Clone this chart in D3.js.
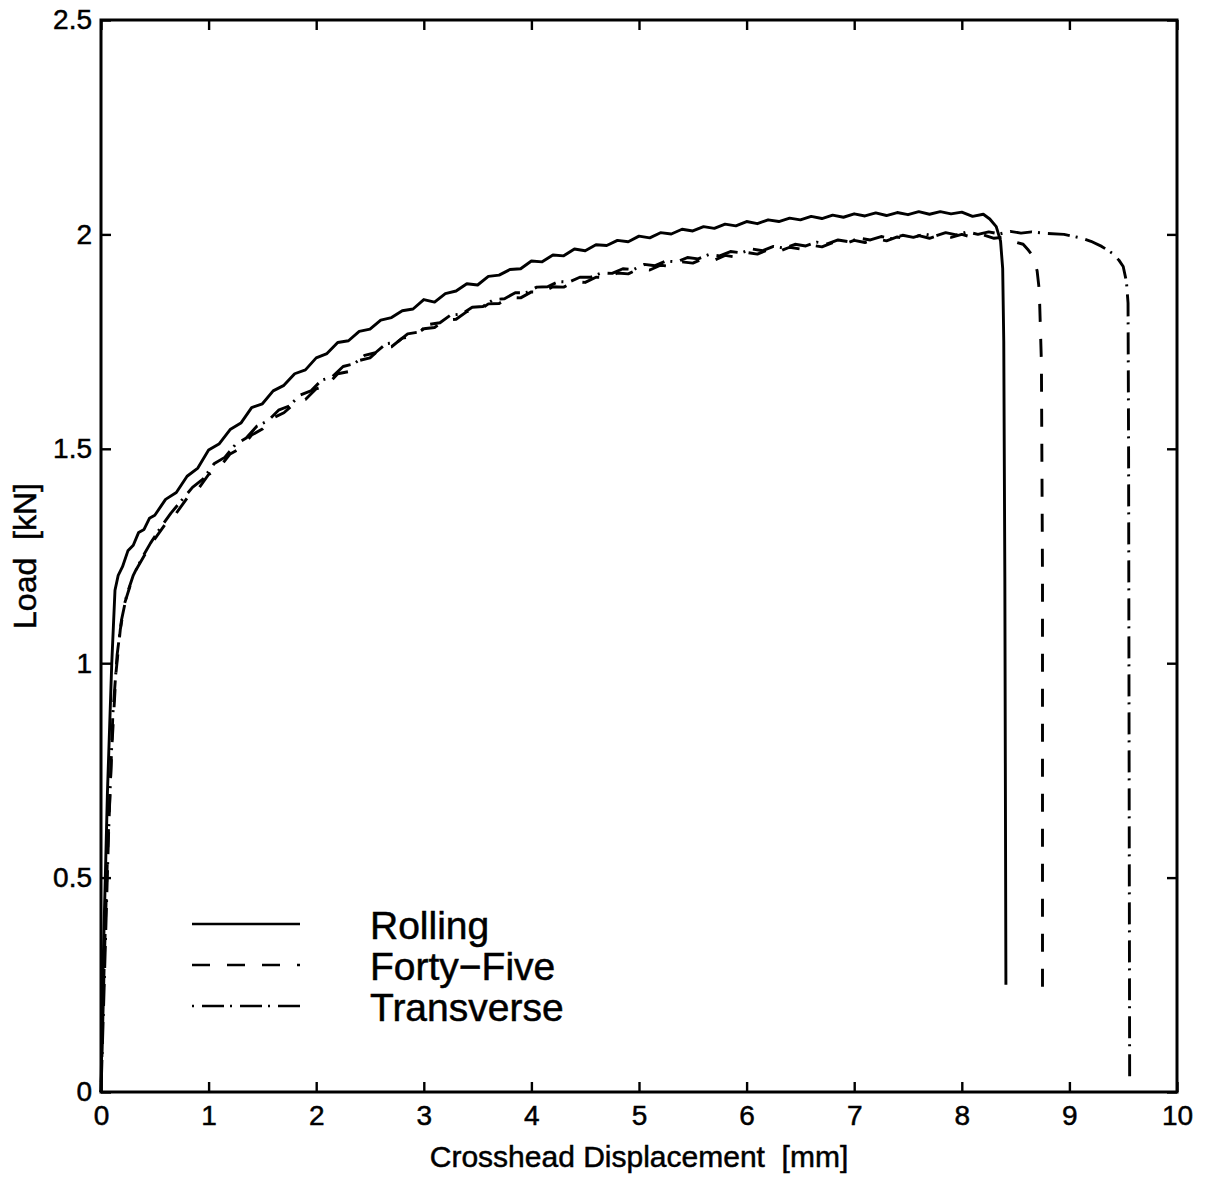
<!DOCTYPE html>
<html>
<head>
<meta charset="utf-8">
<script src="https://cdn.jsdelivr.net/npm/d3@7"></script>
<style>
  html, body { margin: 0; padding: 0; background: #fff; }
  svg { display: block; }
  text { font-family: "Liberation Sans", Arial, Helvetica, sans-serif; fill: #000; stroke: #000; stroke-width: 0.5; }
</style>
</head>
<body>
<div id="chart"></div>
<script>
// displacement [mm], load [kN] pairs for each specimen orientation
var rolling = [
  [0, 0], [0.02, 0.30], [0.06, 0.70], [0.10, 1.00], [0.13, 1.17], [0.16, 1.205],
  [0.20, 1.225], [0.25, 1.262], [0.30, 1.275], [0.35, 1.305], [0.40, 1.312], [0.45, 1.338],
  [0.50, 1.345], [0.60, 1.382], [0.70, 1.398], [0.80, 1.436], [0.90, 1.455], [1.00, 1.497],
  [1.10, 1.512], [1.20, 1.545], [1.30, 1.560], [1.40, 1.596], [1.50, 1.605], [1.60, 1.635],
  [1.70, 1.648], [1.80, 1.675], [1.90, 1.684], [2.00, 1.712], [2.10, 1.722], [2.20, 1.748],
  [2.30, 1.752], [2.40, 1.774], [2.50, 1.779], [2.60, 1.800], [2.70, 1.806], [2.80, 1.822],
  [2.90, 1.826], [3.00, 1.848], [3.10, 1.842], [3.20, 1.862], [3.30, 1.868], [3.40, 1.885],
  [3.50, 1.882], [3.60, 1.902], [3.70, 1.905], [3.80, 1.918], [3.90, 1.920], [4.00, 1.938],
  [4.10, 1.936], [4.20, 1.952], [4.30, 1.950], [4.40, 1.966], [4.50, 1.962], [4.60, 1.976],
  [4.70, 1.974], [4.80, 1.986], [4.90, 1.983], [5.00, 1.996], [5.10, 1.992], [5.20, 2.004],
  [5.30, 2.001], [5.40, 2.012], [5.50, 2.008], [5.60, 2.018], [5.70, 2.014], [5.80, 2.024],
  [5.90, 2.020], [6.00, 2.030], [6.10, 2.025], [6.20, 2.034], [6.30, 2.030], [6.40, 2.038],
  [6.50, 2.034], [6.60, 2.042], [6.70, 2.037], [6.80, 2.045], [6.90, 2.040], [7.00, 2.048],
  [7.10, 2.043], [7.20, 2.050], [7.30, 2.044], [7.40, 2.051], [7.50, 2.046], [7.60, 2.053],
  [7.70, 2.047], [7.80, 2.053], [7.90, 2.048], [8.00, 2.052], [8.10, 2.042], [8.20, 2.047],
  [8.26, 2.036], [8.32, 2.018], [8.36, 1.985], [8.38, 1.92], [8.39, 1.75], [8.40, 1.20],
  [8.41, 0.25]
];

var fortyFive = [
  [0, 0], [0.03, 0.30], [0.06, 0.55], [0.10, 0.80], [0.14, 0.98], [0.18, 1.08],
  [0.22, 1.14], [0.27, 1.18], [0.32, 1.215], [0.40, 1.25], [0.50, 1.29], [0.60, 1.325],
  [0.70, 1.35], [0.80, 1.385], [0.90, 1.405], [1.00, 1.44], [1.10, 1.456], [1.20, 1.488],
  [1.30, 1.502], [1.40, 1.532], [1.50, 1.546], [1.60, 1.572], [1.70, 1.584], [1.80, 1.606],
  [1.90, 1.615], [2.00, 1.640], [2.10, 1.648], [2.20, 1.675], [2.30, 1.680], [2.40, 1.706],
  [2.50, 1.712], [2.60, 1.735], [2.70, 1.738], [2.80, 1.758], [2.90, 1.762], [3.00, 1.780],
  [3.10, 1.783], [3.20, 1.800], [3.30, 1.802], [3.40, 1.820], [3.50, 1.821], [3.60, 1.838],
  [3.70, 1.839], [3.80, 1.853], [3.90, 1.852], [4.00, 1.866], [4.10, 1.865], [4.20, 1.878],
  [4.30, 1.877], [4.40, 1.890], [4.50, 1.888], [4.60, 1.900], [4.70, 1.899], [4.80, 1.910],
  [4.90, 1.908], [5.00, 1.920], [5.10, 1.917], [5.20, 1.928], [5.30, 1.925], [5.40, 1.936],
  [5.50, 1.933], [5.60, 1.944], [5.70, 1.940], [5.80, 1.951], [5.90, 1.947], [6.00, 1.958],
  [6.10, 1.954], [6.20, 1.964], [6.30, 1.960], [6.40, 1.970], [6.50, 1.966], [6.60, 1.975],
  [6.70, 1.971], [6.80, 1.981], [6.90, 1.977], [7.00, 1.986], [7.10, 1.981], [7.20, 1.990],
  [7.30, 1.985], [7.40, 1.994], [7.50, 1.988], [7.60, 1.997], [7.70, 1.991], [7.80, 1.999],
  [7.90, 1.993], [8.00, 2.000], [8.10, 1.993], [8.20, 1.999], [8.30, 1.991], [8.40, 1.994],
  [8.50, 1.982], [8.57, 1.977], [8.62, 1.963], [8.66, 1.950], [8.70, 1.915], [8.72, 1.87],
  [8.74, 1.70], [8.75, 1.20], [8.75, 0.21]
];

var transverse = [
  [0, 0], [0.03, 0.25], [0.07, 0.60], [0.11, 0.88], [0.15, 1.02], [0.19, 1.10],
  [0.24, 1.16], [0.30, 1.205], [0.38, 1.245], [0.46, 1.28], [0.55, 1.315], [0.65, 1.35],
  [0.75, 1.38], [0.85, 1.41], [0.95, 1.43], [1.05, 1.465], [1.15, 1.48], [1.25, 1.51],
  [1.35, 1.525], [1.45, 1.553], [1.55, 1.565], [1.65, 1.59], [1.75, 1.60], [1.85, 1.625],
  [1.95, 1.635], [2.05, 1.66], [2.15, 1.668], [2.25, 1.692], [2.35, 1.698], [2.45, 1.718],
  [2.55, 1.724], [2.65, 1.745], [2.75, 1.748], [2.85, 1.768], [2.95, 1.772], [3.05, 1.79],
  [3.15, 1.794], [3.25, 1.812], [3.35, 1.814], [3.45, 1.83], [3.55, 1.832], [3.65, 1.848],
  [3.75, 1.850], [3.85, 1.864], [3.95, 1.864], [4.05, 1.877], [4.15, 1.878], [4.25, 1.89],
  [4.35, 1.889], [4.45, 1.90], [4.55, 1.90], [4.65, 1.91], [4.75, 1.909], [4.85, 1.92],
  [4.95, 1.918], [5.05, 1.93], [5.15, 1.927], [5.25, 1.938], [5.35, 1.936], [5.45, 1.946],
  [5.55, 1.943], [5.65, 1.953], [5.75, 1.950], [5.85, 1.96], [5.95, 1.957], [6.05, 1.966],
  [6.15, 1.962], [6.25, 1.972], [6.35, 1.968], [6.45, 1.977], [6.55, 1.973], [6.65, 1.982],
  [6.75, 1.978], [6.85, 1.987], [6.95, 1.983], [7.05, 1.991], [7.15, 1.987], [7.25, 1.995],
  [7.35, 1.990], [7.45, 1.998], [7.55, 1.993], [7.65, 2.001], [7.75, 1.996], [7.85, 2.004],
  [7.95, 1.999], [8.05, 2.006], [8.15, 2.000], [8.25, 2.006], [8.35, 2.001], [8.45, 2.007],
  [8.55, 2.003], [8.65, 2.006], [8.80, 2.002], [8.95, 2.000], [9.10, 1.992], [9.20, 1.984],
  [9.30, 1.972], [9.40, 1.956], [9.46, 1.94], [9.50, 1.925], [9.53, 1.89], [9.545, 1.84],
  [9.55, 1.50], [9.56, 0.03]
];

var seriesNames = ["Rolling", "Forty\u2212Five", "Transverse"];
var xTicks = [0, 1, 2, 3, 4, 5, 6, 7, 8, 9, 10];
var yTicks = [0, 0.5, 1, 1.5, 2, 2.5];

var width = 1207, height = 1178;
var margin = {top: 20, right: 30, bottom: 86, left: 101};

var svg = d3.select("#chart").append("svg")
  .attr("width", width)
  .attr("height", height);

var x = d3.scaleLinear().domain([0, 10]).range([margin.left, width - margin.right]);
var y = d3.scaleLinear().domain([0, 2.5]).range([height - margin.bottom, margin.top]);

var tickLen = 10;

// bottom and left axes carry the labels, top and right only the ticks
svg.append("g")
  .attr("transform", "translate(0," + y(0) + ")")
  .call(d3.axisBottom(x).tickValues(xTicks).tickSizeInner(-tickLen).tickSizeOuter(0).tickPadding(13).tickFormat(d3.format("d")))
  .call(styleAxis)
  .selectAll("text").attr("dy", "0.71em");

svg.append("g")
  .attr("transform", "translate(" + x(0) + ",0)")
  .call(d3.axisLeft(y).tickValues(yTicks).tickSizeInner(-tickLen).tickSizeOuter(0).tickPadding(9).tickFormat(function(d) { return String(d); }))
  .call(styleAxis);

svg.append("g")
  .attr("transform", "translate(0," + y(2.5) + ")")
  .call(d3.axisTop(x).tickValues(xTicks).tickSizeInner(-tickLen).tickSizeOuter(0).tickFormat(""))
  .call(styleAxis);

svg.append("g")
  .attr("transform", "translate(" + x(10) + ",0)")
  .call(d3.axisRight(y).tickValues(yTicks).tickSizeInner(-tickLen).tickSizeOuter(0).tickFormat(""))
  .call(styleAxis);

function styleAxis(g) {
  g.select(".domain").remove();
  g.selectAll(".tick line").attr("stroke", "#000").attr("stroke-width", 2.4);
  g.selectAll(".tick text").attr("font-size", 28).attr("fill", "#000");
}

// frame
svg.append("rect")
  .attr("x", x(0))
  .attr("y", y(2.5))
  .attr("width", x(10) - x(0))
  .attr("height", y(0) - y(2.5))
  .attr("fill", "none")
  .attr("stroke", "#000")
  .attr("stroke-width", 3);

var line = d3.line()
  .x(function(d) { return x(d[0]); })
  .y(function(d) { return y(d[1]); });

var styles = [
  {data: rolling, dash: null},
  {data: fortyFive, dash: "18,17"},
  {data: transverse, dash: "2,8,22,6"}
];

svg.selectAll("path.curve")
  .data(styles)
  .enter()
  .append("path")
  .attr("class", "curve")
  .attr("d", function(d) { return line(d.data); })
  .attr("fill", "none")
  .attr("stroke", "#000")
  .attr("stroke-width", 2.9)
  .attr("stroke-linejoin", "round")
  .attr("stroke-dasharray", function(d) { return d.dash; });

// legend
var legendY = [924, 965, 1006];
var legend = svg.selectAll("g.legend")
  .data(styles)
  .enter()
  .append("g")
  .attr("class", "legend")
  .attr("transform", function(d, i) { return "translate(0," + legendY[i] + ")"; });

legend.append("line")
  .attr("x1", 192)
  .attr("x2", 300)
  .attr("stroke", "#000")
  .attr("stroke-width", 2.6)
  .attr("stroke-dasharray", function(d) { return d.dash; });

legend.append("text")
  .attr("x", 370)
  .attr("y", 15)
  .attr("font-size", 39)
  .text(function(d, i) { return seriesNames[i]; });

// axis titles
svg.append("text")
  .attr("x", (x(0) + x(10)) / 2)
  .attr("y", 1167)
  .attr("text-anchor", "middle")
  .attr("font-size", 30)
  .attr("xml:space", "preserve")
  .text("Crosshead Displacement  [mm]");

svg.append("text")
  .attr("transform", "translate(36," + (y(0) + y(2.5)) / 2 + ") rotate(-90)")
  .attr("text-anchor", "middle")
  .attr("font-size", 32)
  .attr("xml:space", "preserve")
  .text("Load  [kN]");
</script>
</body>
</html>
